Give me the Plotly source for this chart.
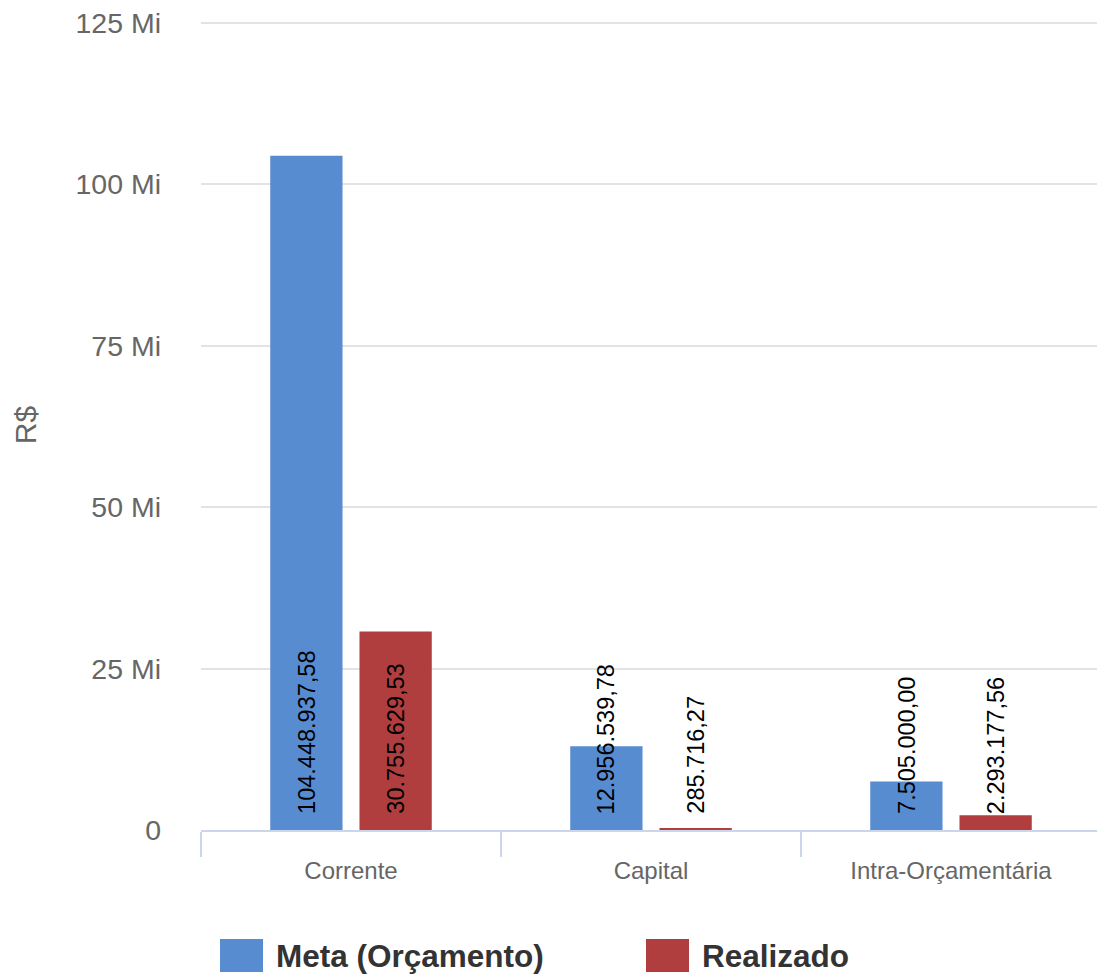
import plotly.graph_objects as go

categories = ["Corrente", "Capital", "Intra-Orçamentária"]
meta = [104448937.58, 12956539.78, 7505000.00]
realizado = [30755629.53, 285716.27, 2293177.56]
series_names = ["Meta (Orçamento)", "Realizado"]
colors = ["#588CD0", "#B03E3E"]
tick_vals = [0, 25e6, 50e6, 75e6, 100e6, 125e6]
tick_text = ["0", "25 Mi", "50 Mi", "75 Mi", "100 Mi", "125 Mi"]

FONT = "Liberation Sans, Arial, sans-serif"
BARGAP = 0.405
BARGROUPGAP = 0.19
Y_MAX = 125.46e6
FIG_W, FIG_H = 1101, 975


def br(v):
    s = f"{v:,.2f}"
    return s.replace(",", "X").replace(".", ",").replace("X", ".")


fig = go.Figure()
for name, vals, col in zip(series_names, [meta, realizado], colors):
    fig.add_trace(go.Bar(
        x=categories, y=vals, name=name,
        marker=dict(color=col, line=dict(width=0)),
        showlegend=False, hoverinfo="skip",
    ))

# rotated value labels at bar bases
offset = (1 - BARGAP) / 4
for k, vals in enumerate([meta, realizado]):
    sign = -1 if k == 0 else 1
    for i, v in enumerate(vals):
        fig.add_annotation(
            x=i + sign * offset, y=0, xref="x", yref="y",
            text=br(v), textangle=-90, showarrow=False,
            yanchor="bottom", xanchor="center", yshift=14,
            font=dict(family=FONT, size=23.5, color="#000000"),
        )

# manual legend
L0, T0, B0 = 201, 20, 145
W, H = FIG_W - L0, FIG_H - T0 - B0  # plot area in pixels
legend_items = [(220, series_names[0], colors[0]), (646, series_names[1], colors[1])]
for px, name, col in legend_items:
    fig.add_shape(
        type="rect", xref="paper", yref="paper",
        x0=(px - L0) / W, x1=(px + 43 - L0) / W,
        y0=(T0 + H - 939) / H, y1=(T0 + H - 972) / H,
        fillcolor=col, line=dict(width=0),
    )
    fig.add_annotation(
        xref="paper", yref="paper", x=(px + 54 - L0) / W, y=(T0 + H - 955.5) / H,
        text=f"<b>{name}</b>", showarrow=False, xanchor="left", yanchor="middle",
        font=dict(family=FONT, size=31.5, color="#333333"),
    )

fig.update_layout(
    width=FIG_W, height=FIG_H,
    margin=dict(l=L0, r=0, t=T0, b=B0),
    paper_bgcolor="white", plot_bgcolor="white",
    barmode="group", bargap=BARGAP, bargroupgap=BARGROUPGAP,
    font=dict(family=FONT),
)
fig.update_xaxes(
    showline=True, linecolor="#ccd6eb", linewidth=2,
    ticks="outside", tickson="boundaries", ticklen=25, tickwidth=2, tickcolor="#ccd6eb",
    tickfont=dict(family=FONT, size=24, color="#666666"),
    ticklabelstandoff=18,
    showgrid=False, zeroline=False,
)
fig.update_yaxes(
    range=[0, Y_MAX], tickvals=tick_vals, ticktext=tick_text,
    showgrid=True, gridcolor="#e3e3e3", gridwidth=2, zeroline=False,
    tickfont=dict(family=FONT, size=28.5, color="#666666"),
    ticklabelstandoff=39,
    title=dict(text="R$", font=dict(family=FONT, size=30, color="#666666"), standoff=29),
)

fig.write_html(
    "out.html",
    config={"displayModeBar": False},
    post_script="document.body.style.margin='0';document.body.style.overflow='hidden';",
)
